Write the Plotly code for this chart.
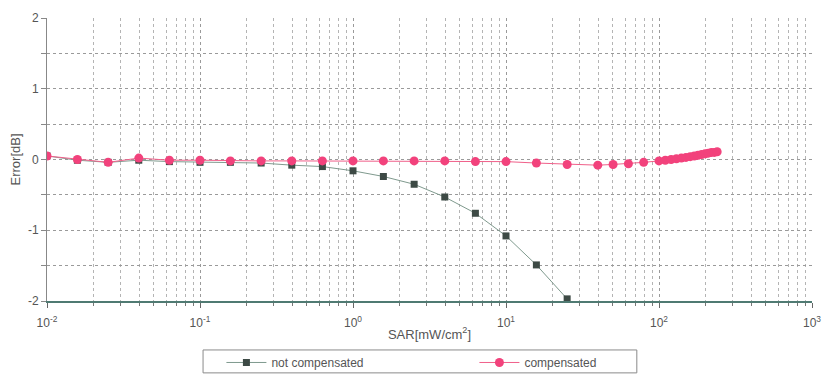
import plotly.graph_objects as go

sar_nc = [0.01, 0.0158, 0.0251, 0.0398, 0.0631, 0.1, 0.158, 0.251, 0.398, 0.631,
          1.0, 1.58, 2.51, 3.98, 6.31, 10.0, 15.8, 25.1]
err_nc = [0.05, -0.01, -0.04, -0.01, -0.03, -0.04, -0.04, -0.05, -0.08, -0.10,
          -0.16, -0.24, -0.35, -0.53, -0.76, -1.08, -1.49, -1.97]

sar_c = [0.01, 0.0158, 0.0251, 0.0398, 0.0631, 0.1, 0.158, 0.251, 0.398, 0.631,
         1.0, 1.58, 2.51, 3.98, 6.31, 10.0, 15.8, 25.1, 39.8, 50.1, 63.1, 79.4,
         100, 110, 120, 130, 140, 150, 160, 170, 180, 190, 200, 210, 220, 230, 240]
err_c = [0.05, 0.0, -0.04, 0.02, -0.01, -0.01, -0.02, -0.02, -0.02, -0.02,
         -0.02, -0.02, -0.02, -0.02, -0.03, -0.03, -0.05, -0.07, -0.08, -0.07, -0.06, -0.04,
         -0.02, -0.01, 0.0, 0.01, 0.02, 0.03, 0.04, 0.05, 0.06, 0.07, 0.08, 0.09, 0.10, 0.10, 0.11]

x_tickvals = [0.01, 0.1, 1, 10, 100, 1000]
x_ticktext = ["10<sup>-2</sup>", "10<sup>-1</sup>", "10<sup>0</sup>", "10<sup>1</sup>",
              "10<sup>2</sup>", "10<sup>3</sup>"]
y_tickvals = [-2, -1, 0, 1, 2]
y_ticktext = ["-2", "-1", "0", "1", "2"]

fig = go.Figure()
fig.add_trace(go.Scatter(
    x=sar_nc, y=err_nc, name="not compensated", mode="lines+markers",
    line=dict(color="#7f9a8e", width=1),
    marker=dict(symbol="square", size=7, color="#3d4a45"),
))
fig.add_trace(go.Scatter(
    x=sar_c, y=err_c, name="compensated", mode="lines+markers",
    line=dict(color="#f0608a", width=1),
    marker=dict(symbol="circle", size=9, color="#f2427c"),
))

# legend frame
fig.add_shape(type="rect", xref="paper", yref="paper",
              x0=0.204, x1=0.771, y0=-0.254, y1=-0.173,
              line=dict(color="#8a8a8a", width=1), fillcolor="rgba(0,0,0,0)", layer="above")

grid_col = "#9a9a9a"
fig.update_layout(
    width=822, height=368,
    margin=dict(l=39, r=18, t=10, b=75, autoexpand=False),
    paper_bgcolor="white", plot_bgcolor="white",
    font=dict(family="Liberation Sans, Arial, sans-serif", size=12, color="#555555"),
    showlegend=True,
    legend=dict(
        orientation="h", x=0.228, xanchor="left", y=-0.166, yanchor="top",
        entrywidth=198, bgcolor="rgba(0,0,0,0)", borderwidth=0,
        font=dict(size=12, color="#555555"), itemwidth=40,
    ),
    xaxis=dict(
        type="log", range=[-2, 3],
        tickmode="array", tickvals=x_tickvals, ticktext=x_ticktext,
        ticklabeloverflow="allow", ticklabelstandoff=5,
        showline=True, linecolor="#4f7a72", linewidth=2,
        ticks="outside", ticklen=5, tickcolor="#666666",
        showgrid=True, gridcolor=grid_col, griddash="dot", gridwidth=1,
        minor=dict(tick0=0, dtick="D1", ticks="outside", ticklen=3, tickcolor="#777777",
                   showgrid=True, gridcolor="#b4b4b4", griddash="dot", gridwidth=1),
        title=dict(text="SAR[mW/cm<sup>2</sup>]", standoff=0, font=dict(size=13)),
        zeroline=False, mirror=False,
    ),
    yaxis=dict(
        range=[-2, 2], tickmode="array", tickvals=y_tickvals, ticktext=y_ticktext,
        showline=True, linecolor="#888888", linewidth=1,
        ticks="outside", ticklen=5, tickcolor="#888888",
        showgrid=True, gridcolor=grid_col, griddash="dot", gridwidth=1,
        minor=dict(dtick=0.5, ticks="outside", ticklen=5, tickcolor="#888888",
                   showgrid=True, gridcolor=grid_col, griddash="dot"),
        title=dict(text="Error[dB]", standoff=12, font=dict(size=13)),
        zeroline=False,
    ),
)

fig.write_html("out.html")
